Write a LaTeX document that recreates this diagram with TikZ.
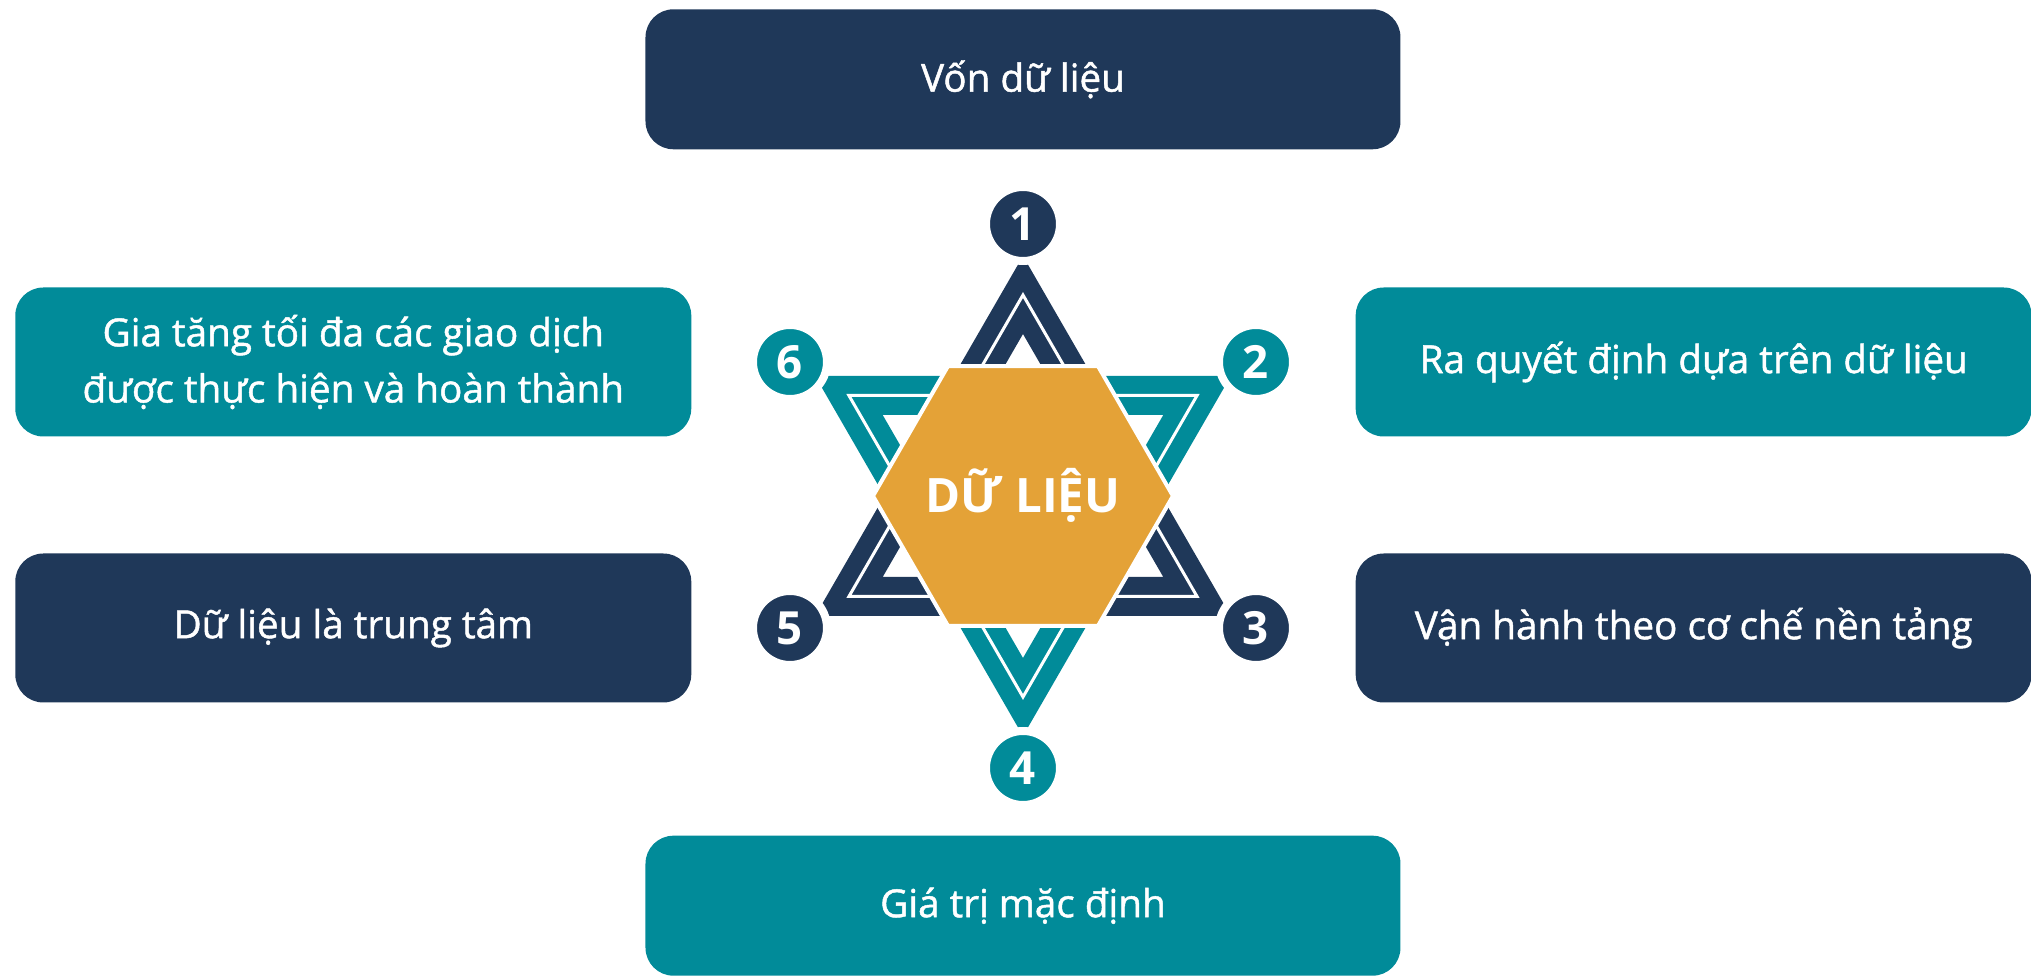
\documentclass[tikz,border=0pt]{standalone}
\usepackage{fontspec}
\setmainfont{Open Sans}
\newfontfamily\boxfont{Open Sans}[FakeBold=1.2]
\usetikzlibrary{shapes.geometric, positioning}
\definecolor{datanavy}{RGB}{31,56,89}
\definecolor{datateal}{RGB}{1,139,153}
\definecolor{dataorange}{RGB}{228,162,55}
\tikzstyle{navybox} = [
	rectangle,
	rounded corners=0.28cm,
	minimum width=6.76cm,
	minimum height=1.49cm,
	align=center,
	fill=datanavy,
	text=white,
	font=\boxfont\fontsize{11}{16}\selectfont
]
\tikzstyle{tealbox} = [
	navybox,
	fill=datateal
]
\tikzstyle{widebox} = [
	minimum width=7.55cm,
	minimum height=1.40cm
]
\tikzstyle{numdot} = [
	circle,
	minimum size=0.74cm,
	inner sep=0pt,
	outer sep=0pt,
	draw=white,
	line width=0.08cm,
	text=white,
	font=\fontsize{13}{15}\selectfont\bfseries
]
\tikzstyle{hexfill} = [fill=dataorange, draw=white, line width=0.04cm]
\tikzstyle{coretext} = [
	anchor=base,
	inner sep=0pt,
	text=white,
	font=\fontsize{13.5}{16}\selectfont\bfseries
]
\tikzstyle{midline} = [white, line width=0.03cm]

\begin{document}
\begin{tikzpicture}
	\useasboundingbox (-10.23,-4.80) rectangle (10.08,4.96);

	% the two triangles of the star
	\fill [datateal, even odd rule] (270:2.4) -- (30:2.4) -- (150:2.4) -- cycle
		(270:1.62) -- (30:1.62) -- (150:1.62) -- cycle;
	\draw [midline] (270:2.01) -- (30:2.01) -- (150:2.01) -- cycle;
	\fill [datanavy, even odd rule] (90:2.4) -- (210:2.4) -- (330:2.4) -- cycle
		(90:1.62) -- (210:1.62) -- (330:1.62) -- cycle;
	\draw [midline] (90:2.01) -- (210:2.01) -- (330:2.01) -- cycle;

	% hexagon in the middle
	\filldraw [hexfill] (0:1.5) -- (60:1.5) -- (120:1.5) -- (180:1.5) -- (240:1.5) -- (300:1.5) -- cycle;
	\node (hexdata) [coretext] at (0,-0.17) {DỮ LIỆU};

	\node (num1) [numdot, fill=datanavy] at (0,2.72) {1};
	\node (num2) [numdot, fill=datateal] at (2.33,1.34) {2};
	\node (num3) [numdot, fill=datanavy] at (2.33,-1.32) {3};
	\node (num4) [numdot, fill=datateal] at (0,-2.72) {4};
	\node (num5) [numdot, fill=datanavy] at (-2.33,-1.32) {5};
	\node (num6) [numdot, fill=datateal] at (-2.33,1.34) {6};

	\node (vondata) [navybox, widebox, above=0.37cm of num1] {Vốn dữ liệu};
	\node (quyetdinh) [tealbox, right=0.62cm of num2] {Ra quyết định dựa trên dữ liệu};
	\node (vanhanh) [navybox, right=0.62cm of num3] {Vận hành theo cơ chế nền tảng};
	\node (giatri) [tealbox, widebox, below=0.30cm of num4] {Giá trị mặc định};
	\node (trungtam) [navybox, left=0.61cm of num5] {Dữ liệu là trung tâm};
	\node (giaodich) [tealbox, left=0.61cm of num6] {Gia tăng tối đa các giao dịch\\được thực hiện và hoàn thành};
\end{tikzpicture}
\end{document}
